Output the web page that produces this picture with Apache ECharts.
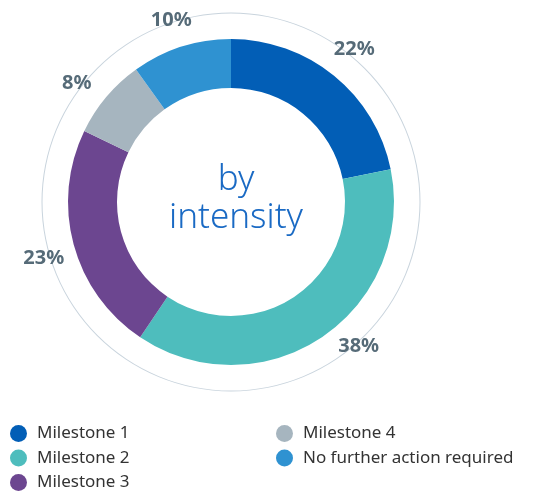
<!DOCTYPE html>
<html><head><meta charset="utf-8">
<script src="https://cdn.jsdelivr.net/npm/echarts@6/dist/echarts.min.js"></script>
<style>html,body{margin:0;padding:0;background:#fff}#c{width:549px;height:493px}</style>
</head><body><div id="c"></div>
<script>
const categories = ['Milestone 1','Milestone 2','Milestone 3','Milestone 4','No further action required'];
const values = [22, 38, 23, 8, 10];
const labels = ['22%','38%','23%','8%','10%'];
const colors = ['#025eb6','#4ebdbd','#6c4690','#a6b5bf','#2f92d1'];
// small label nudges (style only)
const labelNudge = [[0,-2],[19,-18],[1,5],[-5,7],[0,4]];

const chart = echarts.init(document.getElementById('c'));
const data = categories.map((n,i)=>({name:n, value:values[i], itemStyle:{color:colors[i]}}));
const labelData = categories.map((n,i)=>({name:n, value:values[i], label:{formatter:labels[i], offset:labelNudge[i]}}));
const legendText = {fontFamily:'Noto Sans', fontSize:17, lineHeight:17, color:'#333', padding:[0,0,0,5]};
chart.setOption({
  animation:false,
  title:{text:'by\nintensity', left:231, top:156, textAlign:'center',
    textStyle:{fontFamily:'Noto Sans', fontWeight:300, fontSize:35, lineHeight:38, color:'#1a6ac4'}},
  legend:[
    {data:categories.slice(0,3), orient:'vertical', left:10, top:425, height:80, padding:0, icon:'circle', itemWidth:17, itemHeight:17, itemGap:7.5,
     textStyle:legendText, selectedMode:false},
    {data:categories.slice(3), orient:'vertical', left:276, top:425, height:80, padding:0, icon:'circle', itemWidth:17, itemHeight:17, itemGap:7.5,
     textStyle:legendText, selectedMode:false}
  ],
  series:[
    {type:'pie', center:[231,202], radius:[114,163], startAngle:90, data:data, label:{show:false}, labelLine:{show:false}, silent:true},
    {type:'pie', center:[231,202], radius:[188.5,189.5], data:[{value:1, name:'ring'}], silent:true, itemStyle:{color:'#c9d4dd'}, label:{show:false}, labelLine:{show:false}, legendHoverLink:false},
    {type:'pie', center:[231,202], radius:[186,198], startAngle:90, data:labelData, silent:true,
     itemStyle:{color:'rgba(0,0,0,0)'},
     label:{show:true, position:'inside', fontFamily:'Noto Sans', fontWeight:'bold', fontSize:20, color:'#566b78'}, labelLine:{show:false}}
  ]
});
</script></body></html>
